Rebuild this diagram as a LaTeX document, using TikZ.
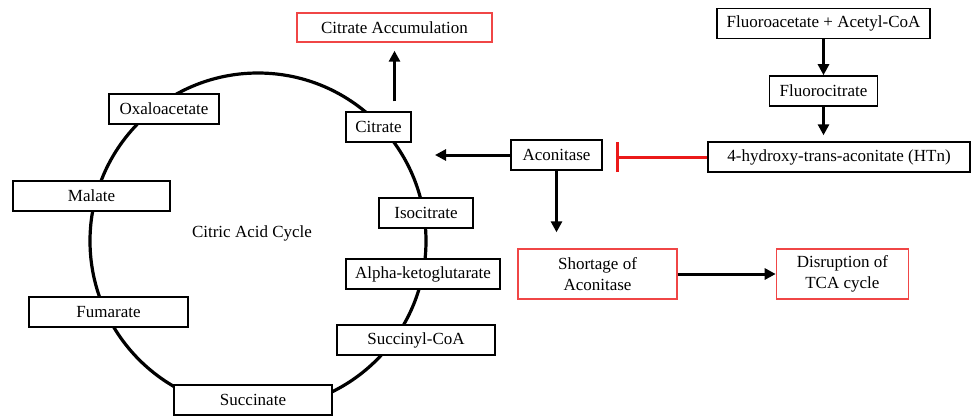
\documentclass[tikz,border=0pt]{standalone}
\usepackage{fontspec}
\setmainfont{Liberation Serif}
\usetikzlibrary{arrows.meta,positioning}
\definecolor{warnred}{RGB}{240,70,70}
\definecolor{inhibred}{RGB}{235,25,25}

\begin{document}
\begin{tikzpicture}[
  x=1pt,y=-1pt,
  font=\fontsize{17}{21}\selectfont,
  node distance=36pt,
  stage/.style={draw,fill=white,line width=1.4pt,align=center,minimum height=30pt,inner sep=2pt},
  effect/.style={stage,draw=warnred,minimum height=50pt},
  arr/.style={-{Triangle[length=11pt,width=11pt]},line width=3pt},
  inhib/.style={-{Bar[width=30pt,line width=3.2pt]},line width=3pt,draw=inhibred}
]
\useasboundingbox (0,0) rectangle (971,416);
\draw[line width=3.2pt] (258,241) circle[radius=168pt];
% cycle intermediates
\node[stage,minimum width=110pt] (oxalo) at (164,109) {Oxaloacetate};
\node[stage,minimum width=65pt] (citrate) at (378.5,127) {Citrate};
\node[stage,minimum width=157pt] (malate) at (91.5,196) {Malate};
\node[stage,minimum width=94pt] (isocit) at (426,213) {Isocitrate};
\node[stage,minimum width=154pt] (akg) at (423,274) {Alpha-ketoglutarate};
\node[stage,minimum width=158pt] (succoa) at (416,340) {Succinyl-CoA};
\node[stage,minimum width=159pt] (fumarate) at (108.5,312) {Fumarate};
\node[stage,minimum width=158pt] (succinate) at (253,400) {Succinate};
\node (cycle) at (252,233) {Citric Acid Cycle};
% fluoroacetate route
\node[effect,minimum width=195pt,minimum height=29pt] (accum) at (394.5,27.5) {Citrate Accumulation};
\node[stage,minimum width=213pt] (fluoro) at (823.5,23.5) {Fluoroacetate + Acetyl-CoA};
\node[stage,minimum width=108pt,below=36pt of fluoro] (fluorocit) {Fluorocitrate};
\node[stage,minimum width=262pt] (htn) at (839,157) {4-hydroxy-trans-aconitate (HTn)};
\node[stage,minimum width=91pt] (aconitase) at (556.5,155) {Aconitase};
\node[effect,minimum width=159pt] (shortage) at (597.5,274) {Shortage of\\Aconitase};
\node[effect,minimum width=132pt,right=98pt of shortage] (disrupt) {Disruption of\\TCA cycle};
\coordinate (citin) at (435,155);
\draw[arr] (fluoro) -- (fluorocit);
\draw[arr,shorten >=6pt] (fluorocit.south) -- (fluorocit.south |- htn.north);
\draw[inhib,shorten >=13pt] (htn.west) -- (htn.west -| aconitase.east);
\draw[arr] (aconitase.west) -- (citin);
\draw[arr,shorten >=16pt] (aconitase.south) -- (aconitase.south |- shortage.north);
\draw[arr] (shortage) -- (disrupt);
\draw[arr,shorten <=10pt,shorten >=8pt] (citrate.north -| accum.south) -- (accum.south);
\end{tikzpicture}
\end{document}
